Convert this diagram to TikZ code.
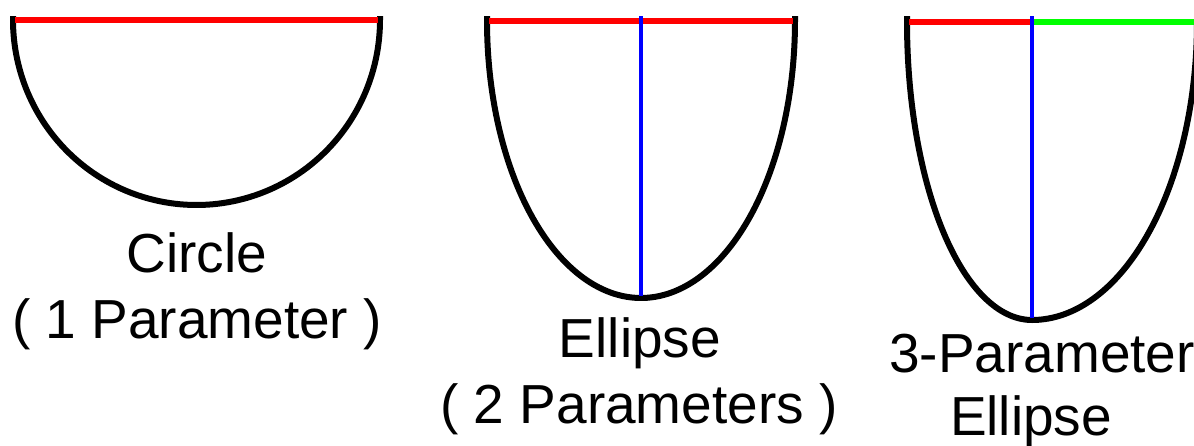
\documentclass[tikz,border=0pt]{standalone}
\usepackage{fontspec}
\setmainfont{Liberation Sans}
\definecolor{pred}{RGB}{255,0,0}
\definecolor{pblue}{RGB}{0,0,255}
\definecolor{pgreen}{RGB}{0,255,0}
\tikzset{
  curve/.style={line width=6pt, black, line join=round},
  redln/.style={line width=5.5pt, pred},
  blueln/.style={line width=4.5pt, pblue},
  greenln/.style={line width=5.5pt, pgreen},
  lbl/.style={font=\fontsize{55}{66}\selectfont, inner sep=0pt, anchor=base, text=black}
}
\begin{document}
\begin{tikzpicture}[x=1pt,y=-1pt]
\useasboundingbox (0,0) rectangle (1194,445);
\clip (0,0) rectangle (1194,445);
% circle
\draw[curve] (13,16) -- (13,20) -- plot[domain=180:360, samples=120] ({196.5+183.5*cos(\x)}, {20-185*sin(\x)}) -- (380,16);
\draw[redln] (15,20) -- (378,20);
% ellipse
\draw[curve] (487,16) -- (487,21) -- plot[domain=180:360, samples=120] ({641+154*cos(\x)}, {21-277*sin(\x)}) -- (795,16);
\draw[redln] (489,21) -- (793,21);
\draw[blueln] (641,16) -- (641,296);
% 3-parameter ellipse
\draw[curve] (907,16) -- (907,22) -- plot[domain=180:270, samples=80] ({1032+125*cos(\x)}, {22-298*sin(\x)}) -- plot[domain=270:360, samples=80] ({1032+165*cos(\x)}, {22-298*sin(\x)});
\draw[redln] (909,22) -- (1032,22);
\draw[greenln] (1032,22) -- (1200,22);
\draw[blueln] (1032,16) -- (1032,318);
% labels
\node[lbl] (c1) at (197,272) {Circle};
\node[lbl] (c2) at (197,338) {( 1 Parameter )};
\node[lbl] (e1) at (640,357) {Ellipse};
\node[lbl] (e2) at (639,423) {( 2 Parameters )};
\node[lbl] (t1) at (1042,372) {3-Parameter};
\node[lbl] (t2) at (1031,435) {Ellipse};
\end{tikzpicture}
\end{document}
